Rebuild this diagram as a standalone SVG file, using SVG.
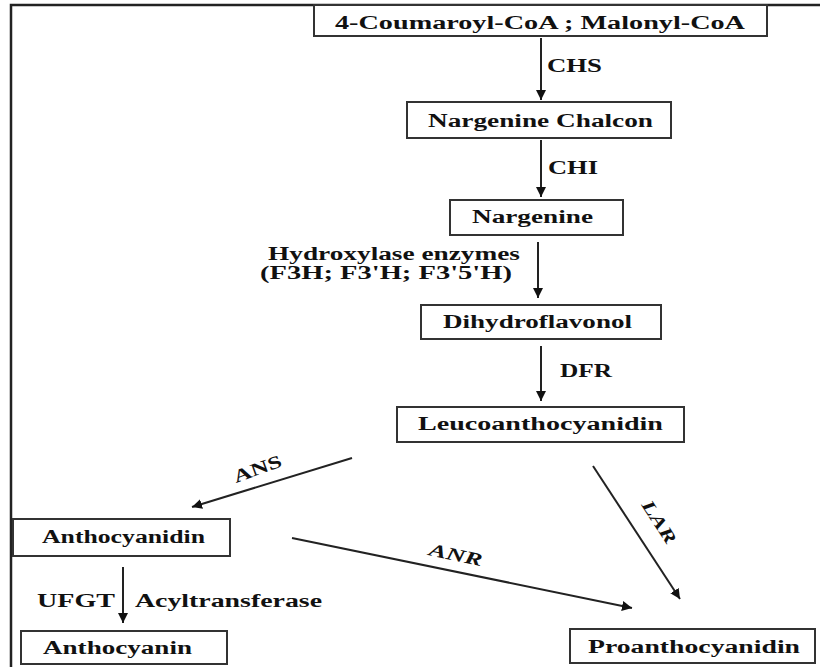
<svg xmlns="http://www.w3.org/2000/svg" width="820" height="667" viewBox="0 0 820 667">
<defs>
<marker id="ah" viewBox="0 0 10 10" refX="10" refY="5" markerWidth="5" markerHeight="5" orient="auto" markerUnits="strokeWidth">
<path d="M0,0 L10,5 L0,10 z" fill="#111"/>
</marker>
<style>
.box{fill:#fff;stroke:#333;stroke-width:2}
.t{font-family:"Liberation Serif","Times New Roman",serif;font-weight:bold;font-size:18px;fill:#111}
.m{text-anchor:middle}
.c{stroke:#222;stroke-width:2;fill:none;marker-end:url(#ah)}
.frame{stroke:#222;stroke-width:2.5;fill:none}
</style>
</defs>
<rect width="820" height="667" fill="#fff"/>
<path class="frame" d="M11,667 L11,5 L820,5"/>

<g id="n1"><rect class="box" x="314" y="5" width="453" height="31"/><text class="t" x="335" y="29" textLength="410" lengthAdjust="spacingAndGlyphs">4-Coumaroyl-CoA ;  Malonyl-CoA</text></g>
<g id="n2"><rect class="box" x="407" y="102" width="264" height="36"/><text class="t" x="428" y="127" textLength="225" lengthAdjust="spacingAndGlyphs">Nargenine Chalcon</text></g>
<g id="n3"><rect class="box" x="450" y="200" width="173" height="35"/><text class="t" x="472" y="223" textLength="121" lengthAdjust="spacingAndGlyphs">Nargenine</text></g>
<g id="n4"><rect class="box" x="421" y="305" width="240" height="34"/><text class="t" x="443" y="328" textLength="189" lengthAdjust="spacingAndGlyphs">Dihydroflavonol</text></g>
<g id="n5"><rect class="box" x="397" y="407" width="287" height="35"/><text class="t" x="418" y="430" textLength="245" lengthAdjust="spacingAndGlyphs">Leucoanthocyanidin</text></g>
<g id="n6"><rect class="box" x="13" y="519" width="217" height="37"/><text class="t" x="42" y="543" textLength="163" lengthAdjust="spacingAndGlyphs">Anthocyanidin</text></g>
<g id="n7"><rect class="box" x="21" y="631" width="206" height="33"/><text class="t" x="43" y="654" textLength="149" lengthAdjust="spacingAndGlyphs">Anthocyanin</text></g>
<g id="n8"><rect class="box" x="570" y="629" width="245" height="34"/><text class="t" x="588" y="653" textLength="212" lengthAdjust="spacingAndGlyphs">Proanthocyanidin</text></g>

<g id="connectors">
<line class="c" x1="541" y1="38" x2="541" y2="100"/>
<line class="c" x1="541" y1="140" x2="541" y2="197"/>
<line class="c" x1="538" y1="242" x2="538" y2="298"/>
<line class="c" x1="541" y1="346" x2="541" y2="401"/>
<line class="c" x1="352" y1="458" x2="192" y2="507"/>
<line class="c" x1="292" y1="538" x2="632" y2="608"/>
<line class="c" x1="593" y1="466" x2="680" y2="599"/>
<line class="c" x1="123" y1="567" x2="123" y2="623"/>
</g>

<g id="labels">
<text class="t" x="547" y="72" textLength="55" lengthAdjust="spacingAndGlyphs">CHS</text>
<text class="t" x="548" y="174" textLength="50" lengthAdjust="spacingAndGlyphs">CHI</text>
<text class="t" x="268" y="260" textLength="252" lengthAdjust="spacingAndGlyphs">Hydroxylase enzymes</text>
<text class="t" x="260" y="279" textLength="252" lengthAdjust="spacingAndGlyphs">(F3H; F3'H; F3'5'H)</text>
<text class="t" x="560" y="377" textLength="52" lengthAdjust="spacingAndGlyphs">DFR</text>
<text class="t" transform="translate(236,483) rotate(-20)" textLength="50" lengthAdjust="spacingAndGlyphs">ANS</text>
<text class="t" font-style="italic" transform="translate(428,555) rotate(12)" textLength="54" lengthAdjust="spacingAndGlyphs">ANR</text>
<text class="t" font-style="italic" transform="translate(641,505) rotate(57)" textLength="48" lengthAdjust="spacingAndGlyphs">LAR</text>
<text class="t" x="37" y="607" textLength="78" lengthAdjust="spacingAndGlyphs">UFGT</text>
<text class="t" x="135" y="607" textLength="187" lengthAdjust="spacingAndGlyphs">Acyltransferase</text>
</g>
</svg>
